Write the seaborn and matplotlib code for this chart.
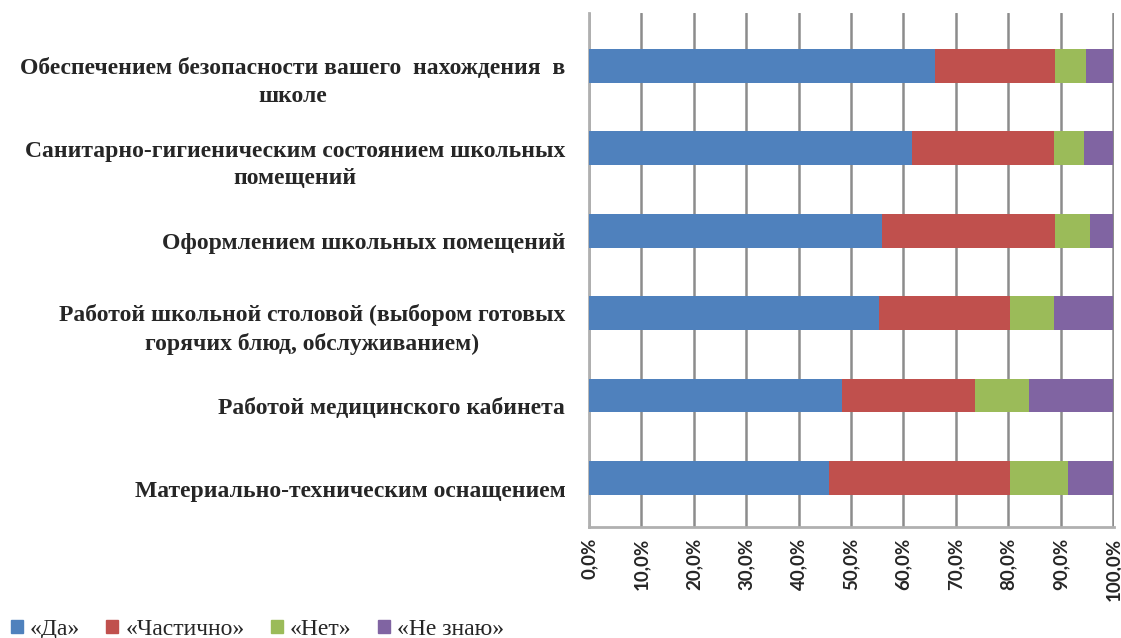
import matplotlib
matplotlib.use("Agg")
import matplotlib.pyplot as plt
import matplotlib.patches as mpatches
import numpy as np
import pandas as pd
import seaborn as sns

categories = [
    "Обеспечением безопасности вашего  нахождения  в\nшколе",
    "Санитарно-гигиеническим состоянием школьных\nпомещений",
    "Оформлением школьных помещений",
    "Работой школьной столовой (выбором готовых\nгорячих блюд, обслуживанием)",
    "Работой медицинского кабинета",
    "Материально-техническим оснащением",
]
series_names = ["«Да»", "«Частично»", "«Нет»", "«Не знаю»"]
da = [66.1, 61.6, 55.9, 55.4, 48.3, 45.8]
chastichno = [22.9, 27.1, 33.1, 25.0, 25.3, 34.6]
net = [5.8, 5.7, 6.7, 8.4, 10.4, 11.1]
ne_znayu = [5.2, 5.6, 4.3, 11.2, 16.0, 8.5]
colors = ["#4F81BD", "#C0504D", "#9BBB59", "#8064A2"]
x_ticks = list(range(0, 101, 10))

df = pd.DataFrame({"cat": categories, "«Да»": da, "«Частично»": chastichno,
                   "«Нет»": net, "«Не знаю»": ne_znayu})
cum = df[series_names].cumsum(axis=1)

sns.set_style("white")
fig = plt.figure(figsize=(11.21, 6.38), dpi=100)
ax = fig.add_axes([0.5254, 0.174, 0.4684, 0.8056])

# widest cumulative first so the shorter ones sit on top
for name, col in reversed(list(zip(series_names, colors))):
    sns.barplot(x=cum[name], y=df["cat"], color=col, orient="h", width=0.41,
                saturation=1, edgecolor="none", ax=ax, zorder=3)

ax.set_xlim(0, 100.2)
ax.set_ylim(5.595, -0.643)
ax.set_xticks(x_ticks)
ax.set_xticklabels([f"{t:.1f}%".replace(".", ",") for t in x_ticks],
                   rotation=90, fontweight="bold", family="Lato", fontsize=13.5)
ax.set_xlabel("")
ax.set_ylabel("")
ax.grid(axis="x", color="#8c8c8c", linewidth=1.8, zorder=0)
ax.set_axisbelow(True)

# labels sit a little below the bars, like in the original
ax.set_yticks(np.arange(len(categories)) + 0.13, labels=categories)
for lab in ax.get_yticklabels():
    lab.set_family("Liberation Serif")
    lab.set_fontweight("bold")
    lab.set_fontsize(17)
    lab.set_multialignment("center")
    lab.set_linespacing(1.4)
ax.tick_params(axis="y", length=0, pad=17)
ax.set_yticks(np.arange(-0.38, 5.0, 1), minor=True)
ax.tick_params(axis="y", which="minor", length=5, color="#a0a0a0", width=1.5)
ax.tick_params(axis="x", length=5, color="#a0a0a0", width=1.5, pad=3)

for side in ["top", "right"]:
    ax.spines[side].set_visible(False)
for side in ["left", "bottom"]:
    ax.spines[side].set_color("#b0b0b0")
    ax.spines[side].set_linewidth(2)

handles = [mpatches.Patch(color=c, label=n) for n, c in zip(series_names, colors)]
fig.legend(handles=handles, loc="lower left", bbox_to_anchor=(-0.003, -0.025), ncol=4,
           frameon=False, handlelength=0.5, handleheight=0.5, handletextpad=0.3,
           columnspacing=1.12, borderaxespad=0.2,
           prop={"family": "Liberation Serif", "size": 17})

fig.savefig("out.png", dpi=100)
